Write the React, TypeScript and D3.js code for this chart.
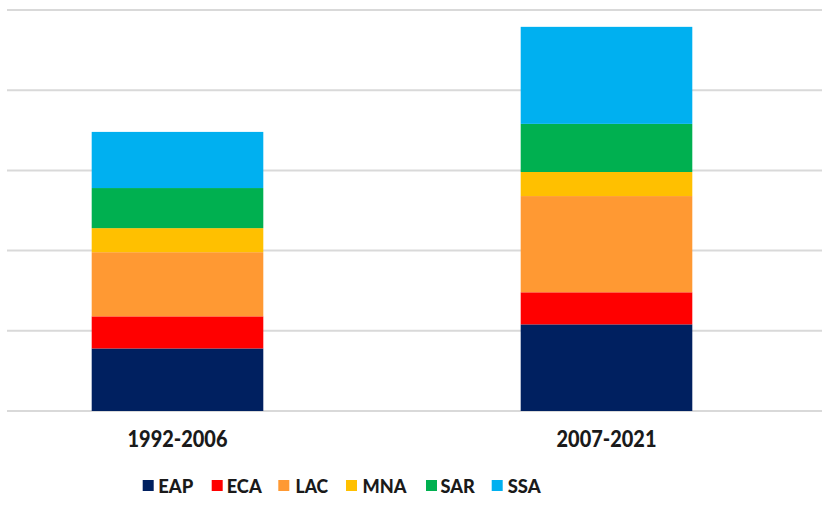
import React from "react";
import * as d3 from "d3";

const categories = ["1992-2006", "2007-2021"];
const regions = ["EAP", "ECA", "LAC", "MNA", "SAR", "SSA"];
const EAP = [0.78, 1.08];
const ECA = [0.4, 0.4];
const LAC = [0.8, 1.2];
const MNA = [0.3, 0.3];
const SAR = [0.5, 0.6];
const SSA = [0.7, 1.21];
const yTicks = [0, 1, 2, 3, 4, 5];
const colors = ["#002060", "#FF0000", "#FF9933", "#FFC000", "#00B050", "#00B0F0"];

const W = 839;
const H = 515;
const FONT = "Lato, 'Open Sans', 'Liberation Sans', sans-serif";

export default function App() {
  const seriesVals: Record<string, number[]> = { EAP, ECA, LAC, MNA, SAR, SSA };
  const rows = categories.map((c, i) => {
    const r: any = { cat: c };
    regions.forEach((k) => (r[k] = seriesVals[k][i]));
    return r;
  });
  const stacked = d3.stack().keys(regions)(rows);

  const x = d3.scaleBand().domain(categories).range([-37, 821]).padding(0);
  const y = d3.scaleLinear().domain([0, 5]).range([411, 10]);
  const barW = x.bandwidth() * 0.4;
  const color = d3.scaleOrdinal<string, string>().domain(regions).range(colors);

  const legendX = [142.7, 211.7, 278.3, 346, 426, 491.7];
  const legendTextX = [158.3, 226.7, 295.5, 362.5, 440.5, 507.7];
  const legendTextW = [35, 35, 32.6, 44, 34.3, 33];

  return (
    <svg width={W} height={H} style={{ position: "absolute", left: 0, top: 0, background: "#fff" }}>
      <rect x={0} y={0} width={W} height={H} fill="#fff" />
      {yTicks.map((t) => (
        <line key={t} x1={7} x2={822} y1={y(t)} y2={y(t)} stroke="#d9d9d9" strokeWidth={2} />
      ))}
      {stacked.map((s) => (
        <g key={s.key} fill={color(s.key)}>
          {s.map((d, i) => (
            <rect
              key={i}
              x={(x(categories[i]) as number) + x.bandwidth() / 2 - barW / 2}
              width={barW}
              y={y(d[1])}
              height={y(d[0]) - y(d[1])}
            />
          ))}
        </g>
      ))}
      {categories.map((c) => (
        <text
          key={c}
          x={(x(c) as number) + x.bandwidth() / 2}
          y={446.5}
          textAnchor="middle"
          fontFamily={FONT}
          fontWeight={900}
          fontSize={22}
          fill="#1a1a1a"
          textLength={100}
          lengthAdjust="spacingAndGlyphs"
        >
          {c}
        </text>
      ))}
      {regions.map((r, i) => (
        <g key={r}>
          <rect x={legendX[i]} y={480} width={11} height={11} fill={color(r)} />
          <text
            x={legendTextX[i]}
            y={492.5}
            fontFamily={FONT}
            fontWeight={900}
            fontSize={18.5}
            fill="#1a1a1a"
            textLength={legendTextW[i]}
            lengthAdjust="spacingAndGlyphs"
          >
            {r}
          </text>
        </g>
      ))}
    </svg>
  );
}
